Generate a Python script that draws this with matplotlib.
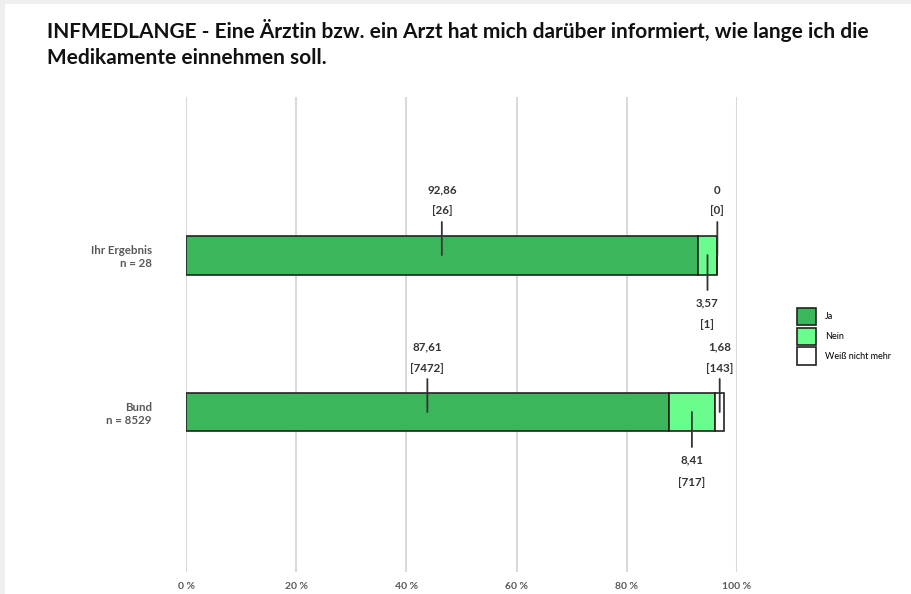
import matplotlib.pyplot as plt
from matplotlib.patches import Patch, Rectangle

plt.rcParams['font.family'] = ['Lato', 'DejaVu Sans']

title = ("INFMEDLANGE - Eine Ärztin bzw. ein Arzt hat mich darüber informiert, wie lange ich die\n"
         "Medikamente einnehmen soll.")
groups = ['Ihr Ergebnis\nn = 28', 'Bund\nn = 8529']
answers = ['Ja', 'Nein', 'Weiß nicht mehr']
colors = ['#3bb65a', '#6afc8c', '#ffffff']
percent = [[92.86, 3.57, 0.0],
           [87.61, 8.41, 1.68]]
counts = [[26, 1, 0],
          [7472, 717, 143]]
xticks = [0, 20, 40, 60, 80, 100]

W, H = 911, 594
fig = plt.figure(figsize=(W / 100, H / 100), dpi=100, facecolor='#efefef')
fig.patches.append(Rectangle((5 / W, 0), 1, 1 - 4 / H, transform=fig.transFigure,
                             facecolor='white', edgecolor='none', zorder=-5))

ax = fig.add_axes([186 / W, 1 - 572 / H, 551 / W, 475 / H])
ax.set_facecolor('none')

bar_h = 39 / 157
for gi, g in enumerate(groups):
    left = 0
    for si, a in enumerate(answers):
        v = percent[gi][si]
        ax.barh(gi, v, left=left, height=bar_h, color=colors[si],
                edgecolor='#222222', linewidth=1.2, zorder=3)
        cx = left + v / 2
        lab = f"{v:.2f}".replace('.', ',') if v else "0"
        up = si != 1
        s = 1 if up else -1
        line_len = 33 if up else 35
        num_off = 65 if up else 48
        br_off = 44 if up else 70
        ax.annotate('', xy=(cx, gi), xytext=(0, s * line_len), textcoords='offset pixels',
                    arrowprops=dict(arrowstyle='-', color='#333333', lw=1.3,
                                    shrinkA=0, shrinkB=0), zorder=4)
        ax.annotate(lab, xy=(cx, gi), xytext=(0, s * num_off), textcoords='offset pixels',
                    ha='center', va='center', fontsize=8.3, color='#333333', fontweight='bold')
        ax.annotate(f"[{counts[gi][si]}]", xy=(cx, gi), xytext=(0, s * br_off),
                    textcoords='offset pixels', ha='center', va='center',
                    fontsize=8.3, color='#333333', fontweight='bold')
        left += v

ax.set_xlim(0, 100)
ax.set_ylim(1 + 160 / 157, -158 / 157)
ax.set_xticks(xticks)
ax.set_xticklabels([f"{t} %" for t in xticks], fontsize=7.5, color='#595959', fontweight='bold')
ax.set_yticks(range(len(groups)))
ax.set_yticklabels(groups, fontsize=8.3, color='#595959', fontweight='bold', ha='right')
ax.tick_params(length=0)
ax.tick_params(axis='x', pad=7)
ax.tick_params(axis='y', pad=24.5)
ax.grid(axis='x', color='#d9d9d9', linewidth=1.5, zorder=0)
for sp in ax.spines.values():
    sp.set_visible(False)

fig.text(47 / W, 1 - 19 / H, title, ha='left', va='top', fontsize=15.0,
         fontweight='bold', color='#111111', linespacing=1.4)

handles = [Patch(facecolor=c, edgecolor='#222222', linewidth=1.2) for c in colors]
fig.legend(handles, answers, loc='upper left', bbox_to_anchor=(797 / W, 1 - 308 / H),
           frameon=False, fontsize=6.5, handlelength=2.1, handleheight=2.6,
           handletextpad=1.0, labelspacing=0.25, borderpad=0, borderaxespad=0)

fig.savefig('out.png', dpi=100, facecolor=fig.get_facecolor())
